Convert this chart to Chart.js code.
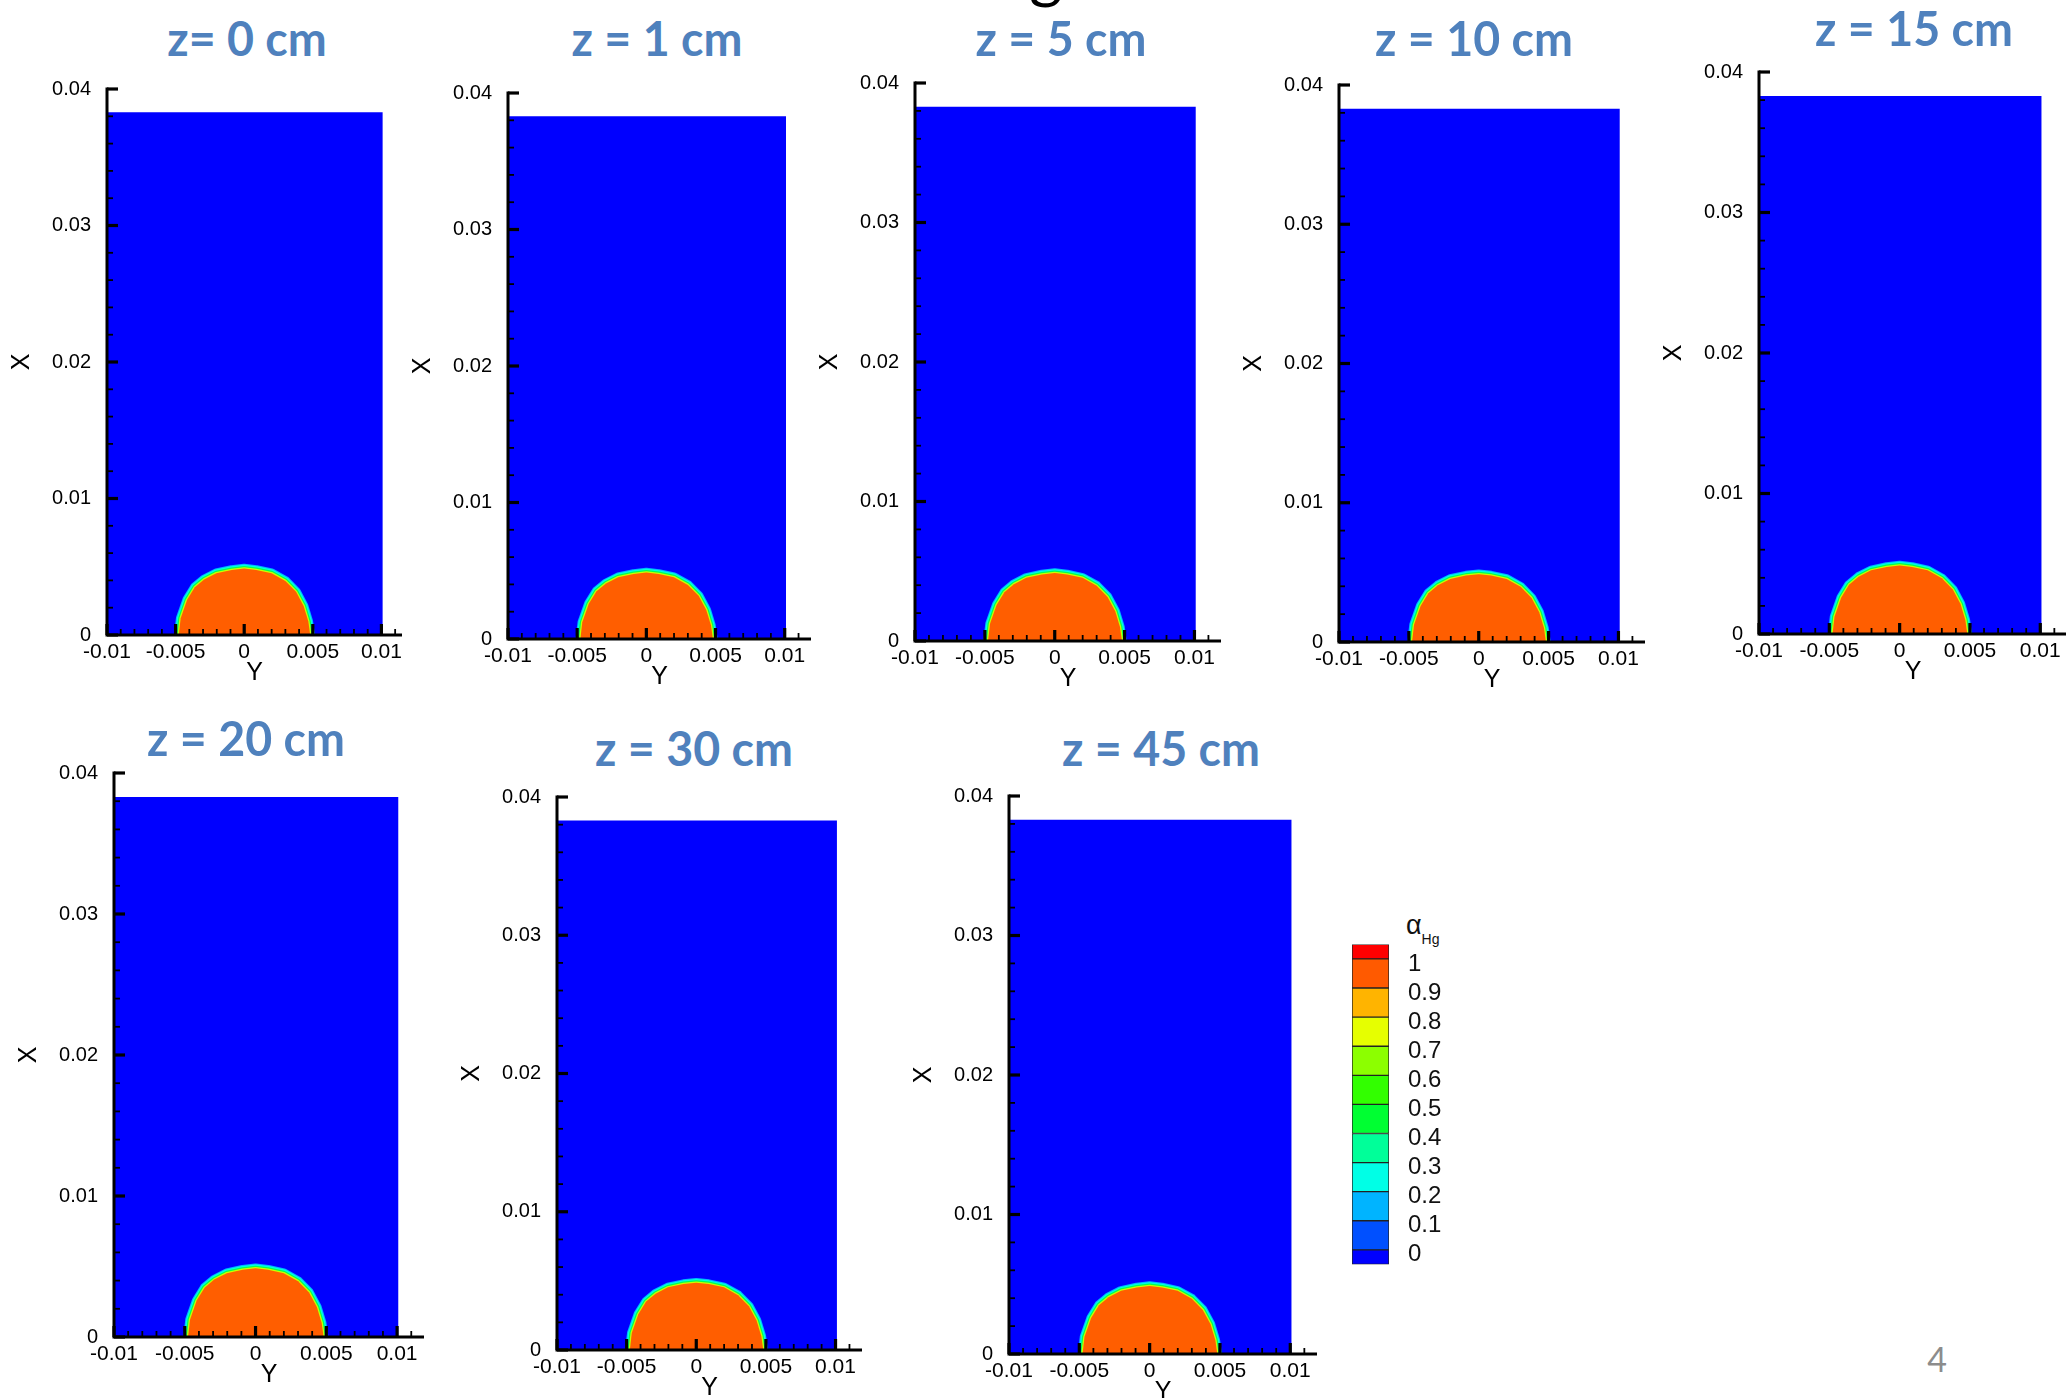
<!DOCTYPE html>
<html>
<head>
<meta charset="utf-8">
<script src="https://cdn.jsdelivr.net/npm/chart.js@4.4.1/dist/chart.umd.min.js"></script>
<style>
  html, body { margin: 0; padding: 0; background: #fff; }
  body { width: 2066px; height: 1398px; position: relative; overflow: hidden; }
  canvas { position: absolute; }
  .titulo { position: absolute; font-family: Lato; font-weight: bold; font-size: 48px; line-height: 48px;
            color: #4f81bd; white-space: nowrap; transform: translateX(-50%) scaleX(0.97); }
  #alfa { position: absolute; left: 1406px; top: 912px; font: 27px/27px "Liberation Sans"; color: #111; }
  #alfa span { font-size: 14px; position: relative; top: 10px; }
  #pagina { position: absolute; left: 1937px; top: 1342px; font: 34px/34px Lato; color: #8c8c8c; transform: translateX(-50%); }
  #letra { position: absolute; left: 1046px; top: -60px; font: 64px/64px Lato; color: #000; transform: translateX(-50%); }
</style>
</head>
<body>
<div id="letra">g</div>
<div id="alfa">α<span>Hg</span></div>
<div id="pagina">4</div>
<script>
// posiciones axiales de cada corte
const titulos = ["z= 0 cm", "z = 1 cm", "z = 5 cm", "z = 10 cm", "z = 15 cm", "z = 20 cm", "z = 30 cm", "z = 45 cm"];

// ejes (m)
const ejeXMayores = [-0.01, -0.005, 0, 0.005, 0.01];
const ejeYMayores = [0, 0.01, 0.02, 0.03, 0.04];
const xPasoMenor = 0.001;
const yPasoMenor = 0.002;
const xMinimo = -0.01;
const xMaximos = [0.0115, 0.0119, 0.0119, 0.0119, 0.0119, 0.0119, 0.0119, 0.0119];

// dominio lleno de aire (alfa = 0)
const tanque = [{ x: -0.01, y: 0.0383 }, { x: 0.0101, y: 0.0383 }];

// contorno de la gota de mercurio (alfa ~ 0.9)
const gotaX = [-0.00477, -0.00463, -0.00416, -0.0036, -0.00292, -0.00203, -0.00091, 0, 0.00088, 0.00199, 0.003, 0.00378, 0.00433, 0.00467, 0.00481];
const gotaY = [0, 0.00123, 0.00258, 0.0035, 0.00407, 0.00453, 0.00477, 0.00487, 0.00477, 0.00453, 0.00396, 0.00316, 0.00213, 0.001, 0];

// barra de colores
const nivelesAlfa = [0, 0.1, 0.2, 0.3, 0.4, 0.5, 0.6, 0.7, 0.8, 0.9, 1];
const bandaInferior = [-0.05, 0, 0.1, 0.2, 0.3, 0.4, 0.5, 0.6, 0.7, 0.8, 0.9, 1];
const bandaSuperior = [0, 0.1, 0.2, 0.3, 0.4, 0.5, 0.6, 0.7, 0.8, 0.9, 1, 1.05];
const coloresAlfa = ["#0000ff", "#0050ff", "#00b4ff", "#00ffe6", "#00ff99", "#00ff32", "#32ff00", "#8cff00", "#e6ff00", "#ffb400", "#ff5a00", "#ff0000"];

// cajas en pixeles: eje izquierdo, 0.04, fin del eje x, 0
const paneles = [
  { L: 107, T: 89, R: 402, B: 635 },
  { L: 508, T: 93, R: 811, B: 639 },
  { L: 915, T: 83, R: 1221, B: 641 },
  { L: 1339, T: 85, R: 1645, B: 642 },
  { L: 1759, T: 72, R: 2067, B: 634 },
  { L: 114, T: 773, R: 424, B: 1337 },
  { L: 557, T: 797, R: 862, B: 1350 },
  { L: 1009, T: 796, R: 1317, B: 1354 }
];
const posTitulos = [[247, 39], [657, 39], [1061, 39], [1474, 39], [1914, 29], [246, 739], [694, 749], [1161, 749]];
const cajaLeyenda = { L: 1352, T: 944, R: 1389, B: 1264 };

const colorGota = "#ff5e00";

function redondear(v) {
  return Number(v.toFixed(5));
}

function esMayor(v, paso) {
  const q = v / paso;
  return Math.abs(q - Math.round(q)) < 1e-6;
}

function marcas(min, max, paso) {
  const lista = [];
  const n = Math.floor((max - min) / paso + 1e-6);
  for (let k = 0; k <= n; k++) {
    lista.push({ value: redondear(min + k * paso) });
  }
  return lista;
}

function etiqueta(v, mayores) {
  const r = redondear(v);
  return mayores.includes(r) ? String(r) : "";
}

// ubica el area del grafico justo sobre la caja pedida
function ajustar(chart, cv, caja) {
  const a = chart.chartArea;
  const w = chart.width + (caja.R - caja.L) - (a.right - a.left);
  const h = chart.height + (caja.B - caja.T) - (a.bottom - a.top);
  chart.resize(w, h);
  const b = chart.chartArea;
  cv.style.left = caja.L - b.left + "px";
  cv.style.top = caja.T - b.top + "px";
}

// ticks hacia adentro como en tecplot
const ejesTecplot = {
  id: "ejesTecplot",
  afterDatasetsDraw(chart) {
    const { ctx, chartArea: a } = chart;
    const x = chart.scales.x;
    const y = chart.scales.y;
    ctx.save();
    ctx.strokeStyle = "#000";
    ctx.lineCap = "butt";
    x.ticks.forEach((t) => {
      const mayor = esMayor(t.value, 0.005);
      const px = x.getPixelForValue(t.value);
      ctx.lineWidth = mayor ? 3.2 : 1.8;
      ctx.beginPath();
      ctx.moveTo(px, a.bottom);
      ctx.lineTo(px, a.bottom - (mayor ? 11 : 6));
      ctx.stroke();
    });
    y.ticks.forEach((t) => {
      const mayor = esMayor(t.value, 0.01);
      const py = y.getPixelForValue(t.value);
      ctx.lineWidth = mayor ? 3.2 : 1.8;
      ctx.beginPath();
      ctx.moveTo(a.left, py);
      ctx.lineTo(a.left + (mayor ? 11 : 6), py);
      ctx.stroke();
    });
    ctx.lineWidth = 3;
    ctx.beginPath();
    ctx.moveTo(a.left, a.top - 1.5);
    ctx.lineTo(a.left, a.bottom);
    ctx.lineTo(a.right, a.bottom);
    ctx.stroke();
    ctx.restore();
  }
};

function crearPanel(i) {
  const p = paneles[i];
  const W = 110, H = 62;
  const cv = document.createElement("canvas");
  cv.width = p.R - p.L + W + 15;
  cv.height = p.B - p.T + H + 30;
  document.body.appendChild(cv);

  const gota = gotaX.map((x, k) => ({ x: x, y: gotaY[k] }));
  const capa = (color, ancho) => ({
    data: gota, borderColor: color, borderWidth: ancho, borderJoinStyle: "round",
    fill: false, pointRadius: 0, clip: 0
  });

  const grafico = new Chart(cv, {
    type: "line",
    data: {
      datasets: [
        { data: gota, borderColor: "rgba(0,0,0,0)", borderWidth: 0, backgroundColor: colorGota, fill: "origin", pointRadius: 0, clip: 0 },
        capa("#c8ff00", 2.5),
        capa("#00ff50", 5),
        capa("#00ffe0", 7.5),
        capa("#00b4ff", 9.5),
        { data: tanque, borderColor: "rgba(0,0,0,0)", borderWidth: 0, backgroundColor: "#0000ff", fill: "origin", pointRadius: 0, clip: 0 }
      ]
    },
    options: {
      responsive: false,
      maintainAspectRatio: false,
      animation: false,
      devicePixelRatio: 1,
      layout: { padding: { top: 0, right: 15, left: 0, bottom: 0 } },
      plugins: { legend: { display: false }, tooltip: { enabled: false } },
      scales: {
        x: {
          type: "linear", min: xMinimo, max: xMaximos[i],
          afterFit: (s) => { s.height = H; },
          afterBuildTicks: (s) => { s.ticks = marcas(xMinimo, xMaximos[i], xPasoMenor); },
          grid: { display: false },
          border: { display: false },
          ticks: { autoSkip: false, maxRotation: 0, minRotation: 0, padding: -3,
                   font: { family: "Liberation Sans", size: 21 }, color: "#000",
                   callback: (v) => etiqueta(v, ejeXMayores) },
          title: { display: true, text: "Y", font: { family: "Liberation Sans", size: 25 }, color: "#000", padding: { top: 0, bottom: 9 } }
        },
        y: {
          type: "linear", min: 0, max: 0.04,
          afterFit: (s) => { s.width = W; },
          afterBuildTicks: (s) => { s.ticks = marcas(0, 0.04, yPasoMenor); },
          grid: { display: false },
          border: { display: false },
          ticks: { autoSkip: false, padding: 8, font: { family: "Liberation Sans", size: 20 }, color: "#000",
                   callback: (v) => etiqueta(v, ejeYMayores) },
          title: { display: true, text: "X", font: { family: "Liberation Sans", size: 25 }, color: "#000", padding: { top: 10, bottom: 0 } }
        }
      }
    },
    plugins: [ejesTecplot]
  });
  ajustar(grafico, cv, p);

  const t = document.createElement("div");
  t.className = "titulo";
  t.textContent = titulos[i];
  t.style.left = posTitulos[i][0] + "px";
  t.style.top = posTitulos[i][1] - 25 + "px";
  document.body.appendChild(t);
}

function crearLeyenda() {
  const cv = document.createElement("canvas");
  cv.width = 37 + 80;
  cv.height = 380;
  document.body.appendChild(cv);
  const grafico = new Chart(cv, {
    type: "bar",
    data: {
      labels: [""],
      datasets: coloresAlfa.map((c, k) => ({
        data: [[bandaInferior[k], bandaSuperior[k]]],
        backgroundColor: c, borderColor: "#222", borderWidth: 1, borderSkipped: false,
        barPercentage: 1, categoryPercentage: 1
      }))
    },
    options: {
      responsive: false,
      maintainAspectRatio: false,
      animation: false,
      devicePixelRatio: 1,
      layout: { padding: 0 },
      plugins: { legend: { display: false }, tooltip: { enabled: false } },
      scales: {
        x: { display: false, stacked: true },
        y: {
          position: "right", min: -0.05, max: 1.05,
          afterFit: (s) => { s.width = 80; },
          afterBuildTicks: (s) => { s.ticks = nivelesAlfa.map((v) => ({ value: v })); },
          grid: { display: false },
          border: { display: false },
          ticks: { padding: 11, labelOffset: 5, font: { family: "Liberation Sans", size: 24 }, color: "#111",
                   callback: (v) => String(Number(v.toFixed(1))) }
        }
      }
    }
  });
  ajustar(grafico, cv, cajaLeyenda);
}

for (let i = 0; i < paneles.length; i++) {
  crearPanel(i);
}
crearLeyenda();
</script>
</body>
</html>
